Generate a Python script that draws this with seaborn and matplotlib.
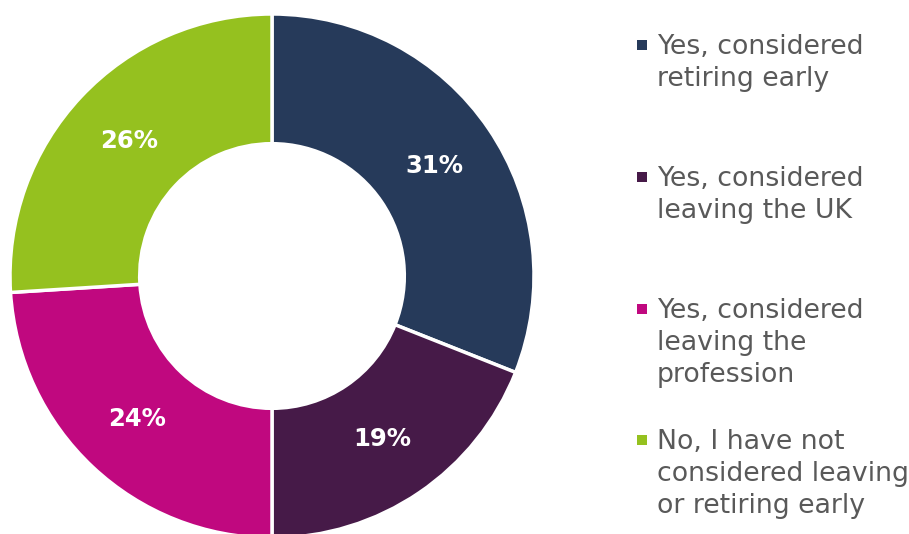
import matplotlib
matplotlib.use("Agg")
import matplotlib.pyplot as plt
from matplotlib.patches import Rectangle
import numpy as np
import seaborn as sns

sns.set_theme(style="white")
plt.rcParams["font.family"] = ["DejaVu Sans"]

categories = [
    "Yes, considered\nretiring early",
    "Yes, considered\nleaving the UK",
    "Yes, considered\nleaving the\nprofession",
    "No, I have not\nconsidered leaving\nor retiring early",
]
shares = [31, 19, 24, 26]
colors = ["#263A5A", "#461A48", "#C0087F", "#95C11F"]
value_labels = [f"{v}%" for v in shares]

W, H = 909, 534
fig = plt.figure(figsize=(W / 100, H / 100), dpi=100)
fig.patch.set_facecolor("white")

# donut: centre (272, 276) px, outer radius 262 px
cx, cy, r = 272, 276, 262
ax = fig.add_axes([(cx - r) / W, (H - cy - r) / H, 2 * r / W, 2 * r / H])
wedges, _ = ax.pie(
    shares,
    colors=colors,
    startangle=90,
    counterclock=False,
    radius=1.0,
    wedgeprops=dict(width=0.495, edgecolor="white", linewidth=2.5),
)
for w, lab in zip(wedges, value_labels):
    ang = np.deg2rad((w.theta1 + w.theta2) / 2)
    ax.text(0.75 * np.cos(ang), 0.75 * np.sin(ang), lab, ha="center", va="center",
            color="white", fontsize=17.5, fontweight="bold")
ax.set_xlim(-1, 1)
ax.set_ylim(-1, 1)
ax.axis("off")

# legend drawn as square markers with wrapped labels
entry_baselines = [54, 186, 318, 449]
line_step = 32
for lab, col, base in zip(categories, colors, entry_baselines):
    fig.patches.append(Rectangle((637 / W, (H - base + 4) / H), 10 / W, 10 / H,
                                 transform=fig.transFigure, facecolor=col, edgecolor="none"))
    for i, line in enumerate(lab.split("\n")):
        fig.text(657 / W, (H - base - i * line_step) / H, line, ha="left", va="baseline",
                 fontsize=19.3, color="#595959")

fig.savefig("out.png", dpi=100, facecolor="white")
